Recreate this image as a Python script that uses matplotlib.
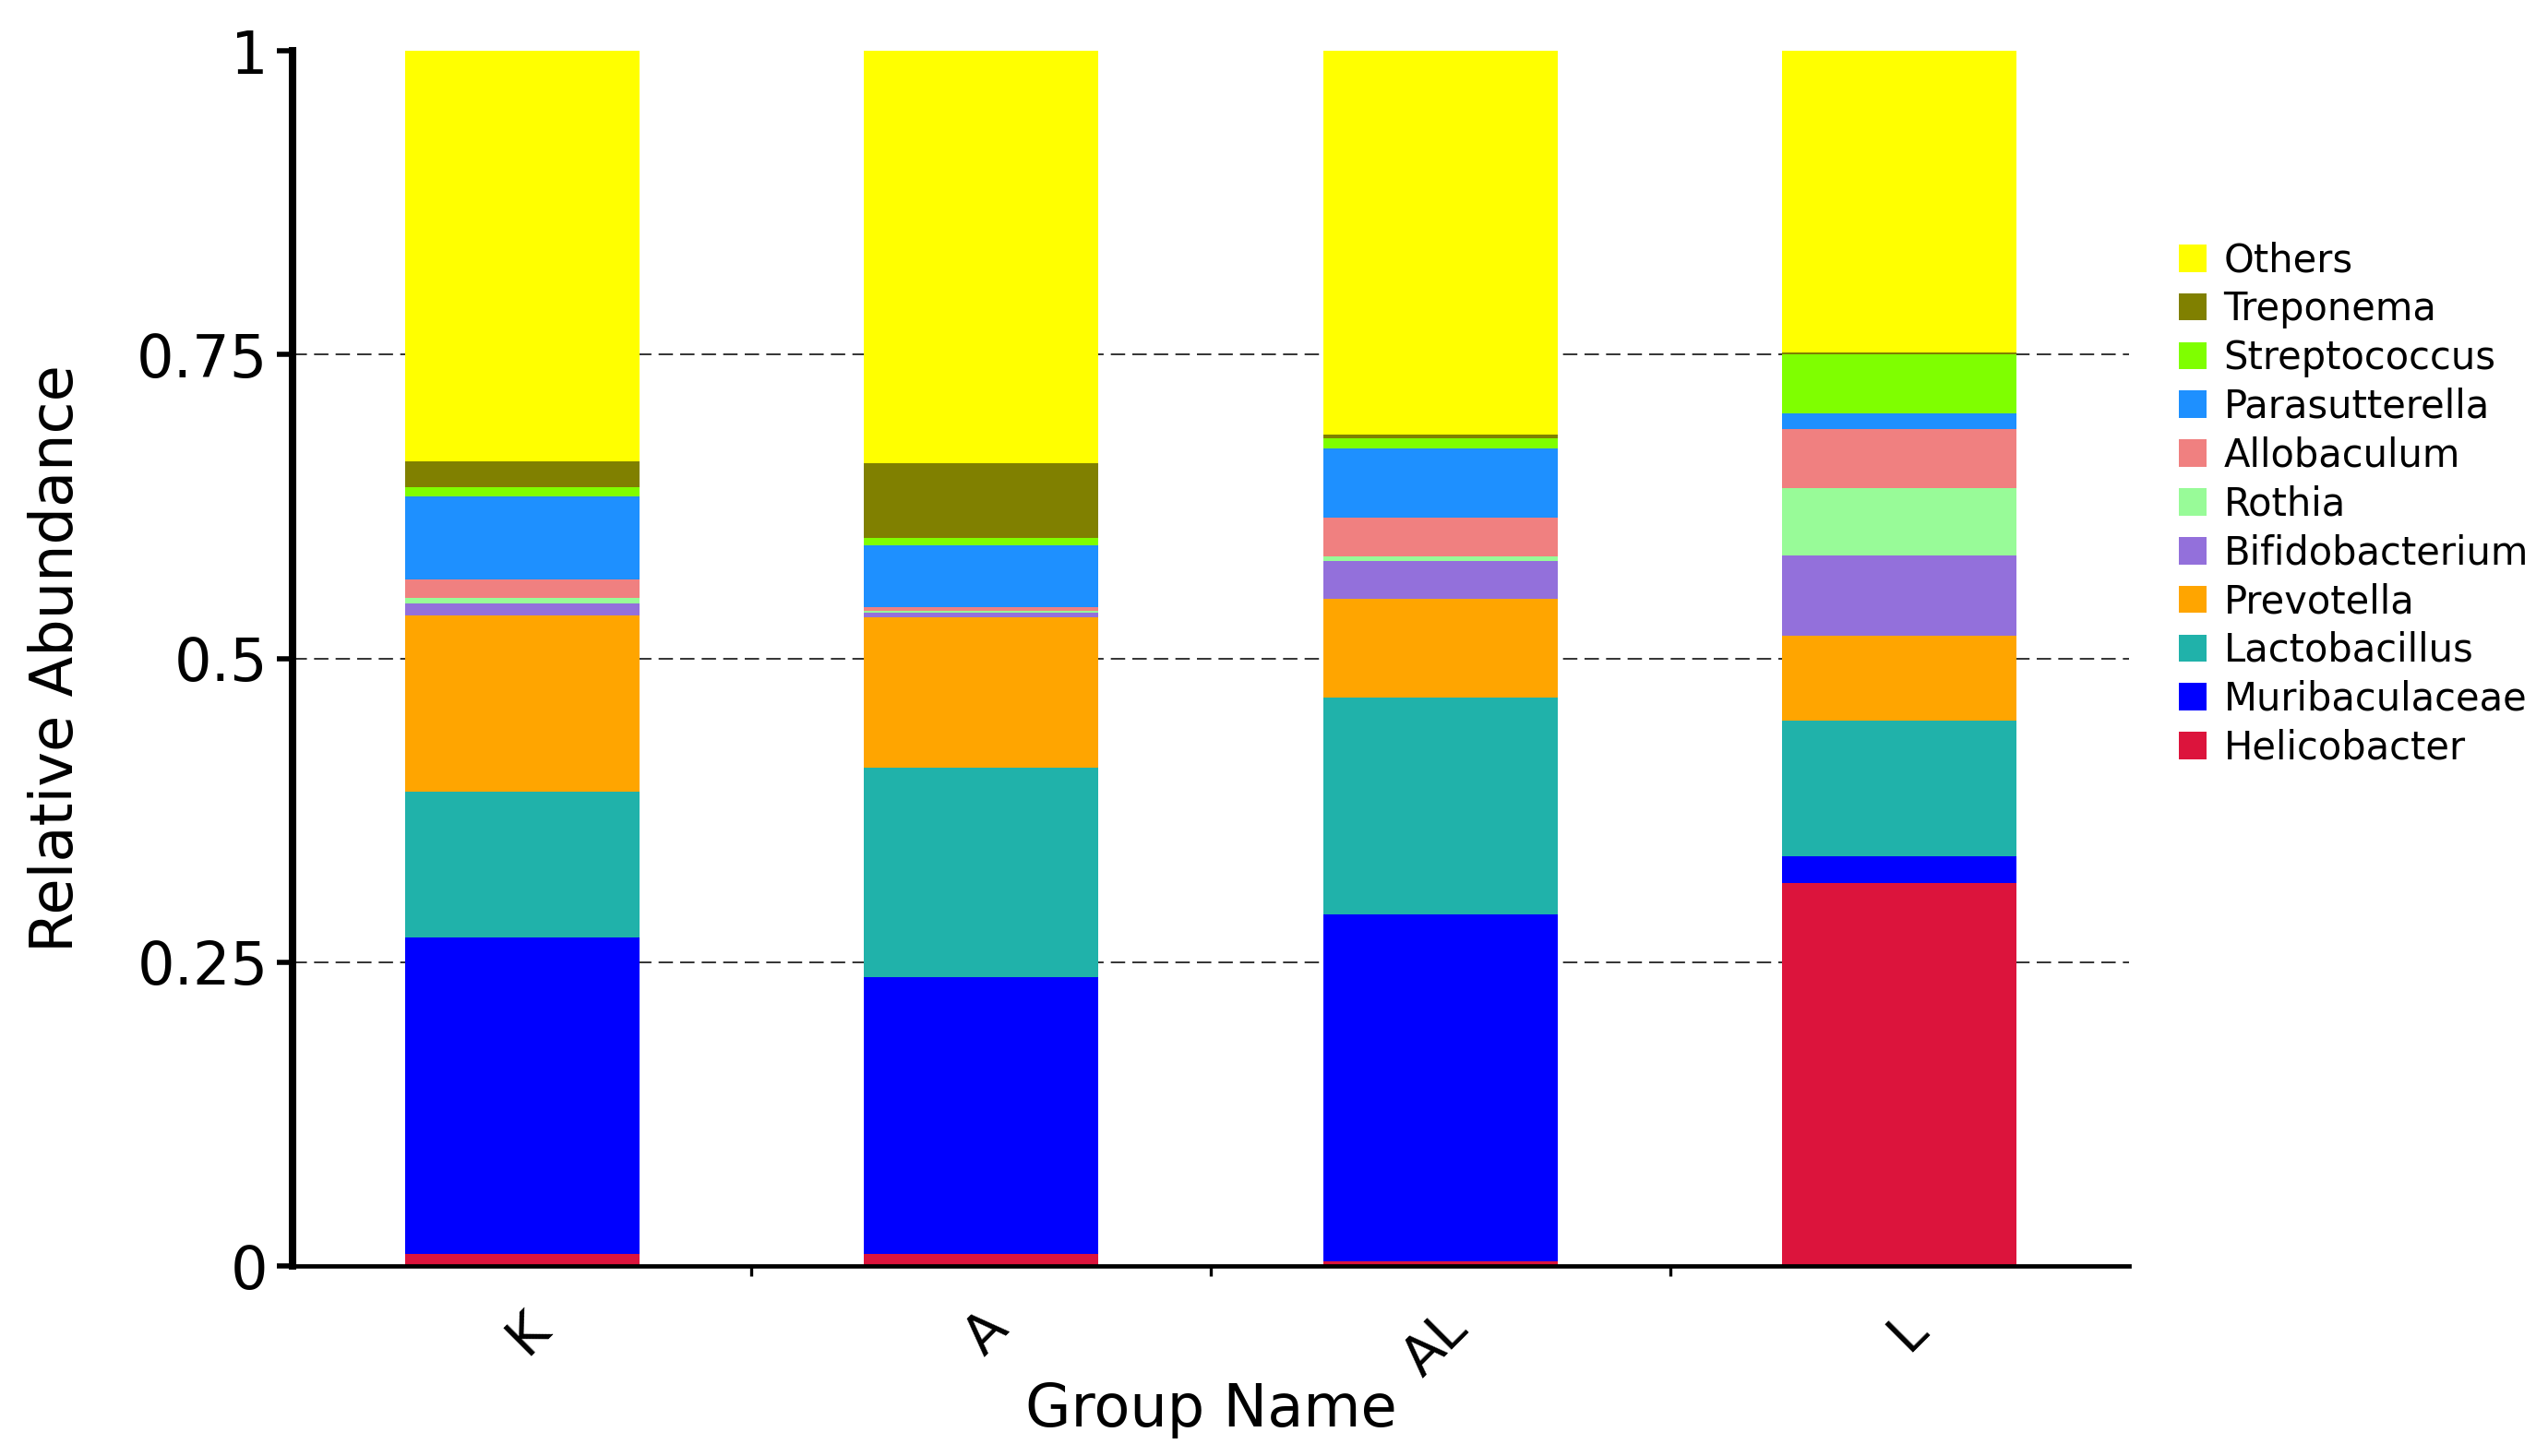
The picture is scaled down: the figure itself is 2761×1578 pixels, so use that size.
import numpy as np
import matplotlib
matplotlib.use("Agg")
import matplotlib.pyplot as plt

# Groups and taxa (bottom of stack first)
groups = ["K", "A", "AL", "L"]
taxa = ["Helicobacter", "Muribaculaceae", "Lactobacillus", "Prevotella",
        "Bifidobacterium", "Rothia", "Allobaculum", "Parasutterella",
        "Streptococcus", "Treponema", "Others"]
colors = ["#DC143C", "#0000FF", "#20B2AA", "#FFA500", "#9370DB", "#98FB98",
          "#F08080", "#1E90FF", "#7FFF00", "#808000", "#FFFF00"]

# relative abundance per group
helicobacter = [0.010, 0.010, 0.004, 0.315]
muribaculaceae = [0.260, 0.228, 0.285, 0.022]
lactobacillus = [0.120, 0.172, 0.179, 0.112]
prevotella = [0.145, 0.124, 0.081, 0.070]
bifidobacterium = [0.010, 0.004, 0.031, 0.066]
rothia = [0.005, 0.001, 0.004, 0.055]
allobaculum = [0.015, 0.003, 0.032, 0.049]
parasutterella = [0.068, 0.051, 0.057, 0.013]
streptococcus = [0.008, 0.006, 0.008, 0.048]
treponema = [0.021, 0.062, 0.003, 0.002]
others = [0.338, 0.339, 0.316, 0.248]

values = [helicobacter, muribaculaceae, lactobacillus, prevotella,
          bifidobacterium, rothia, allobaculum, parasutterella,
          streptococcus, treponema, others]

fig = plt.figure(figsize=(13.805, 7.89), dpi=200)
ax = fig.add_axes([0.1148, 0.1305, 0.7208, 0.8346])

x = np.arange(len(groups)) + 0.5
bottom = np.zeros(len(groups))
handles = []
for name, vals, col in zip(taxa, values, colors):
    vals = np.array(vals)
    b = ax.bar(x, vals, width=0.51, bottom=bottom, color=col, label=name,
               linewidth=0, zorder=2)
    handles.append(b)
    bottom += vals

ax.set_xlim(0, 4)
ax.set_ylim(0, 1)
ax.set_yticks([0, 0.25, 0.5, 0.75, 1])
ax.set_yticklabels(["0", "0.25", "0.5", "0.75", "1"], fontsize=23)
ax.set_xticks(x)
ax.set_xticklabels(groups, fontsize=21, rotation=45, ha="right",
                   rotation_mode="anchor")
ax.set_xticks([1, 2, 3], minor=True)
ax.tick_params(axis="x", which="major", length=0, pad=14)
ax.tick_params(axis="x", which="minor", length=4, width=1.2, direction="out")
ax.tick_params(axis="y", length=6, width=2, pad=3.5)

# dashed guide lines, no line at the top
for yv in [0.25, 0.5, 0.75]:
    ax.axhline(yv, linestyle=(0, (8, 4)), color="#333333", linewidth=0.7, zorder=0)

for s in ["top", "right"]:
    ax.spines[s].set_visible(False)
ax.spines["left"].set_linewidth(2.9)
ax.spines["bottom"].set_linewidth(1.7)

ax.set_ylabel("Relative Abundance", fontsize=23)
ax.yaxis.set_label_coords(-0.113, 0.5)
ax.set_xlabel("Group Name", fontsize=23)
ax.xaxis.set_label_coords(0.5, -0.095)

fig.legend(handles[::-1], taxa[::-1], loc="upper left",
           bbox_to_anchor=(0.849, 0.845), frameon=False, fontsize=15,
           handlelength=0.72, handleheight=0.72, handletextpad=0.45,
           labelspacing=0.26, borderaxespad=0)

fig.savefig("out.png", dpi=200)
